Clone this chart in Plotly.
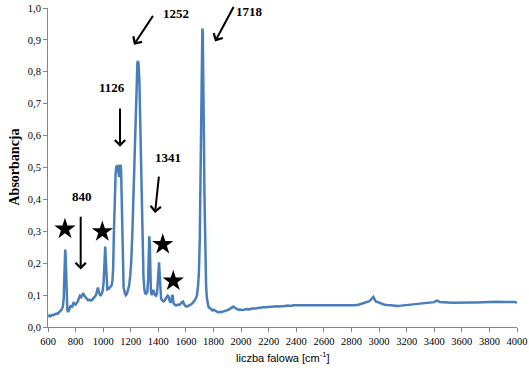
import plotly.graph_objects as go

# ---- spectrum data ----
wavenumber = [
    600, 610, 620, 630, 640, 650, 660, 670, 680, 690, 700, 708, 714, 718, 722, 725, 728, 732, 736, 740,
    746, 752, 760, 766, 772, 778, 786, 792, 800, 808, 816, 824, 832, 840, 848, 856, 864, 872, 880, 890,
    900, 910, 920, 930, 940, 948, 955, 962, 968, 974, 980, 988, 996, 1003, 1008, 1012, 1015, 1019, 1024, 1030,
    1040, 1050, 1060, 1066, 1072, 1078, 1084, 1090, 1096, 1100, 1104, 1110, 1116, 1122, 1126, 1130, 1134, 1138, 1142, 1148,
    1156, 1164, 1172, 1180, 1188, 1196, 1204, 1212, 1220, 1228, 1236, 1242, 1248, 1252, 1256, 1262, 1268, 1274, 1280, 1286,
    1292, 1298, 1304, 1312, 1320, 1326, 1330, 1334, 1338, 1342, 1346, 1352, 1358, 1364, 1370, 1376, 1384, 1390, 1396, 1401,
    1405, 1409, 1414, 1420, 1428, 1436, 1444, 1452, 1460, 1468, 1474, 1480, 1488, 1494, 1500, 1504, 1510, 1518, 1528, 1540,
    1550, 1560, 1570, 1578, 1586, 1596, 1606, 1620, 1634, 1646, 1656, 1664, 1672, 1680, 1688, 1694, 1700, 1704, 1708, 1712,
    1716, 1719, 1722, 1726, 1730, 1734, 1738, 1742, 1746, 1752, 1758, 1764, 1772, 1782, 1792, 1802, 1812, 1824, 1836, 1848,
    1860, 1872, 1884, 1896, 1908, 1920, 1932, 1944, 1956, 1968, 1980, 1992, 2004, 2020, 2040, 2060, 2080, 2100, 2120, 2140,
    2160, 2180, 2200, 2220, 2240, 2260, 2280, 2300, 2320, 2340, 2360, 2380, 2400, 2430, 2460, 2490, 2520, 2550, 2580, 2610,
    2640, 2670, 2700, 2730, 2760, 2790, 2820, 2850, 2870, 2890, 2910, 2925, 2940, 2950, 2958, 2966, 2976, 2990, 3000, 3020,
    3040, 3060, 3080, 3100, 3120, 3140, 3160, 3180, 3200, 3230, 3260, 3290, 3320, 3350, 3380, 3400, 3415, 3425, 3440, 3460,
    3500, 3540, 3580, 3620, 3660, 3700, 3740, 3780, 3820, 3860, 3900, 3940, 3980, 4000,
]
absorbance = [
    0.033, 0.036, 0.034, 0.038, 0.037, 0.040, 0.042, 0.041, 0.045, 0.048, 0.055, 0.065, 0.090, 0.150, 0.220, 0.243, 0.220, 0.140, 0.080, 0.055,
    0.047, 0.052, 0.060, 0.068, 0.062, 0.066, 0.078, 0.072, 0.070, 0.074, 0.080, 0.090, 0.098, 0.094, 0.102, 0.106, 0.098, 0.094, 0.088, 0.084,
    0.086, 0.083, 0.085, 0.090, 0.094, 0.100, 0.112, 0.124, 0.110, 0.100, 0.098, 0.103, 0.112, 0.140, 0.190, 0.240, 0.252, 0.210, 0.140, 0.118,
    0.120, 0.124, 0.130, 0.140, 0.180, 0.300, 0.420, 0.480, 0.505, 0.500, 0.508, 0.490, 0.470, 0.505, 0.508, 0.490, 0.400, 0.280, 0.180, 0.125,
    0.108, 0.100, 0.104, 0.115, 0.130, 0.160, 0.210, 0.300, 0.420, 0.560, 0.700, 0.790, 0.828, 0.834, 0.826, 0.780, 0.660, 0.500, 0.360, 0.240,
    0.160, 0.120, 0.106, 0.104, 0.110, 0.150, 0.240, 0.284, 0.260, 0.170, 0.110, 0.100, 0.112, 0.116, 0.108, 0.100, 0.098, 0.104, 0.140, 0.190,
    0.203, 0.170, 0.120, 0.088, 0.084, 0.080, 0.082, 0.090, 0.094, 0.098, 0.095, 0.084, 0.076, 0.082, 0.100, 0.098, 0.075, 0.070, 0.068, 0.070,
    0.069, 0.072, 0.078, 0.080, 0.072, 0.066, 0.064, 0.066, 0.070, 0.074, 0.078, 0.084, 0.090, 0.100, 0.130, 0.170, 0.270, 0.420, 0.580, 0.760,
    0.910, 0.936, 0.925, 0.820, 0.600, 0.420, 0.290, 0.190, 0.130, 0.090, 0.070, 0.062, 0.060, 0.055, 0.052, 0.054, 0.050, 0.048, 0.046, 0.048,
    0.047, 0.048, 0.050, 0.052, 0.054, 0.058, 0.060, 0.064, 0.060, 0.056, 0.054, 0.055, 0.053, 0.054, 0.056, 0.055, 0.058, 0.058, 0.060, 0.060,
    0.062, 0.062, 0.063, 0.064, 0.063, 0.065, 0.064, 0.066, 0.066, 0.067, 0.066, 0.068, 0.068, 0.067, 0.068, 0.066, 0.067, 0.068, 0.067, 0.066,
    0.067, 0.066, 0.066, 0.067, 0.066, 0.066, 0.068, 0.070, 0.073, 0.076, 0.078, 0.080, 0.085, 0.090, 0.094, 0.088, 0.080, 0.078, 0.076, 0.072,
    0.070, 0.069, 0.068, 0.067, 0.066, 0.066, 0.067, 0.068, 0.069, 0.070, 0.071, 0.072, 0.073, 0.075, 0.077, 0.078, 0.082, 0.083, 0.078, 0.077,
    0.077, 0.076, 0.077, 0.076, 0.077, 0.077, 0.078, 0.078, 0.078, 0.079, 0.078, 0.079, 0.078, 0.077,
]

# tick labels
x_ticks = list(range(600, 4001, 200))
y_ticks = [0.0, 0.1, 0.2, 0.3, 0.4, 0.5, 0.6, 0.7, 0.8, 0.9, 1.0]
y_ticklabels = ["0,0", "0,1", "0,2", "0,3", "0,4", "0,5", "0,6", "0,7", "0,8", "0,9", "1,0"]

# peak labels: text, label position, arrow head, arrow tail
peak_labels = ["840", "1126", "1252", "1341", "1718"]
label_x = [844, 1064, 1530, 1468, 2064]
label_y = [0.41, 0.752, 0.982, 0.532, 0.990]
arrow_head_x = [837, 1122, 1223, 1376, 1811]
arrow_head_y = [0.180, 0.565, 0.885, 0.357, 0.895]
arrow_tail_x = [837, 1122, 1368, 1405, 1951]
arrow_tail_y = [0.350, 0.690, 0.980, 0.476, 1.008]

# stars
star_x = [723, 994, 1432, 1508]
star_y = [0.307, 0.299, 0.259, 0.144]

axis_color = "#868686"
serif = "Liberation Serif"

fig = go.Figure()
fig.add_trace(go.Scatter(
    x=wavenumber, y=absorbance, mode="lines",
    line=dict(color="#4A7EBB", width=2.5),
    showlegend=False, hoverinfo="skip",
))
fig.add_trace(go.Scatter(
    x=star_x, y=star_y, mode="markers",
    marker=dict(symbol="star", size=16, color="black", line=dict(width=0)),
    showlegend=False, hoverinfo="skip", cliponaxis=False,
))

annotations = []
for hx, hy, tx, ty in zip(arrow_head_x, arrow_head_y, arrow_tail_x, arrow_tail_y):
    annotations.append(dict(
        x=hx, y=hy, ax=tx, ay=ty, xref="x", yref="y", axref="x", ayref="y",
        text="", showarrow=True, arrowhead=4, arrowsize=1.0, arrowwidth=2,
        arrowcolor="black", standoff=0, startstandoff=0,
    ))
for t, lx, ly in zip(peak_labels, label_x, label_y):
    annotations.append(dict(
        x=lx, y=ly, xref="x", yref="y", text="<b>%s</b>" % t, showarrow=False,
        font=dict(family=serif, size=13, color="black"),
        xanchor="center", yanchor="middle",
    ))
annotations.append(dict(
    x=0, y=0.5, xref="paper", yref="paper", xshift=-34, textangle=-90,
    text="<b>Absorbancja</b>", showarrow=False,
    font=dict(family=serif, size=14, color="black"),
    xanchor="center", yanchor="middle",
))
annotations.append(dict(
    x=0.5, y=0, xref="paper", yref="paper", yshift=-30,
    text="liczba falowa [cm<sup>-1</sup>]", showarrow=False,
    font=dict(family="Liberation Sans", size=11, color="black"),
    xanchor="center", yanchor="middle",
))

fig.update_layout(
    width=529, height=379,
    margin=dict(l=48, r=12, t=8, b=52, autoexpand=False),
    paper_bgcolor="white", plot_bgcolor="white",
    annotations=annotations,
    xaxis=dict(
        range=[600, 4000], tickvals=x_ticks, automargin=False,
        showgrid=False, zeroline=False,
        showline=True, linecolor=axis_color, linewidth=1,
        ticks="outside", ticklen=4, tickcolor=axis_color,
        tickfont=dict(family=serif, size=10.5, color="black"),
    ),
    yaxis=dict(
        range=[0, 1], tickvals=y_ticks, ticktext=y_ticklabels, automargin=False,
        showgrid=False, zeroline=False,
        showline=True, linecolor=axis_color, linewidth=1,
        ticks="outside", ticklen=4, tickcolor=axis_color,
        tickfont=dict(family=serif, size=10.5, color="black"),
    ),
)

fig.write_html(
    "out.html",
    config={"displayModeBar": False},
    post_script="document.body.style.margin='0';document.body.style.overflow='hidden';",
)
